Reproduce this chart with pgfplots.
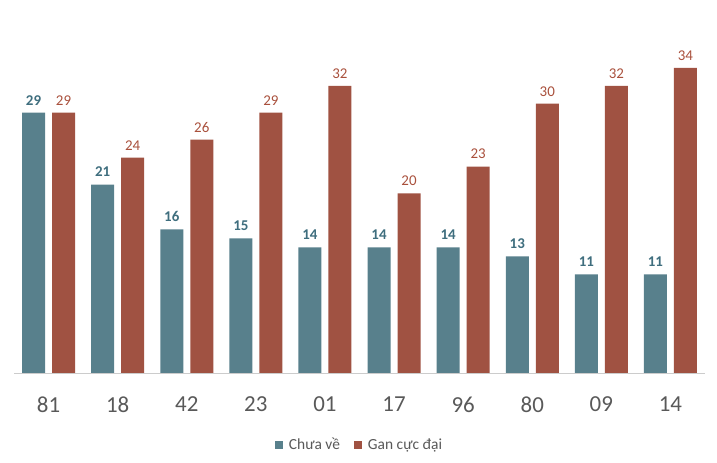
\documentclass[border=0pt]{standalone}
\usepackage{pgfplots}
\pgfplotsset{compat=1.18}
\usepackage{fontspec}
\setmainfont{Carlito}
\definecolor{tealbar}{HTML}{58808C}
\definecolor{brownbar}{HTML}{A05242}
\definecolor{teallab}{HTML}{3F6E7E}
\definecolor{brownlab}{HTML}{A9503C}
\definecolor{ticklab}{HTML}{595959}
\begin{document}
\begin{tikzpicture}[x=1bp,y=1bp]
\path[use as bounding box] (0,0) rectangle (717,463);
\begin{axis}[
  at={(14bp,90bp)}, anchor=south west,
  scale only axis,
  width=691bp, height=359bp,
  xmin=-0.5, xmax=9.5, ymin=0, ymax=40,
  ybar=7bp, bar width=23bp,
  axis x line*=bottom, axis y line=none,
  x axis line style={draw=black!20, line width=0.8pt},
  xtick=data,
  xticklabels={81,18,42,23,01,17,96,80,09,14},
  xtick style={draw=none},
  x tick label style={font=\fontsize{23}{25}\selectfont, text=ticklab, yshift=-16bp},
  /pgf/number format/assume math mode=true,
  nodes near coords,
  every node near coord/.append style={font=\fontsize{15}{17}\selectfont, yshift=4bp},
  legend style={at={(0.5,-0.17)}, anchor=north, draw=none, legend columns=2,
    font=\fontsize{15.5}{17}\selectfont, text=ticklab,
    /tikz/every odd column/.append style={column sep=4bp},
    /tikz/every even column/.append style={column sep=12bp}},
  legend image code/.code={\fill[#1] (0bp,-4bp) rectangle (8bp,4bp);},
]
\addplot[fill=tealbar, draw=none, every node near coord/.append style={text=teallab, font=\fontsize{15}{17}\selectfont\bfseries}]
  coordinates {(0,29) (1,21) (2,16) (3,15) (4,14) (5,14) (6,14) (7,13) (8,11) (9,11)};
\addplot[fill=brownbar, draw=none, every node near coord/.append style={text=brownlab}]
  coordinates {(0,29) (1,24) (2,26) (3,29) (4,32) (5,20) (6,23) (7,30) (8,32) (9,34)};
\legend{Chưa về, Gan cực đại}
\end{axis}
\end{tikzpicture}
\end{document}
